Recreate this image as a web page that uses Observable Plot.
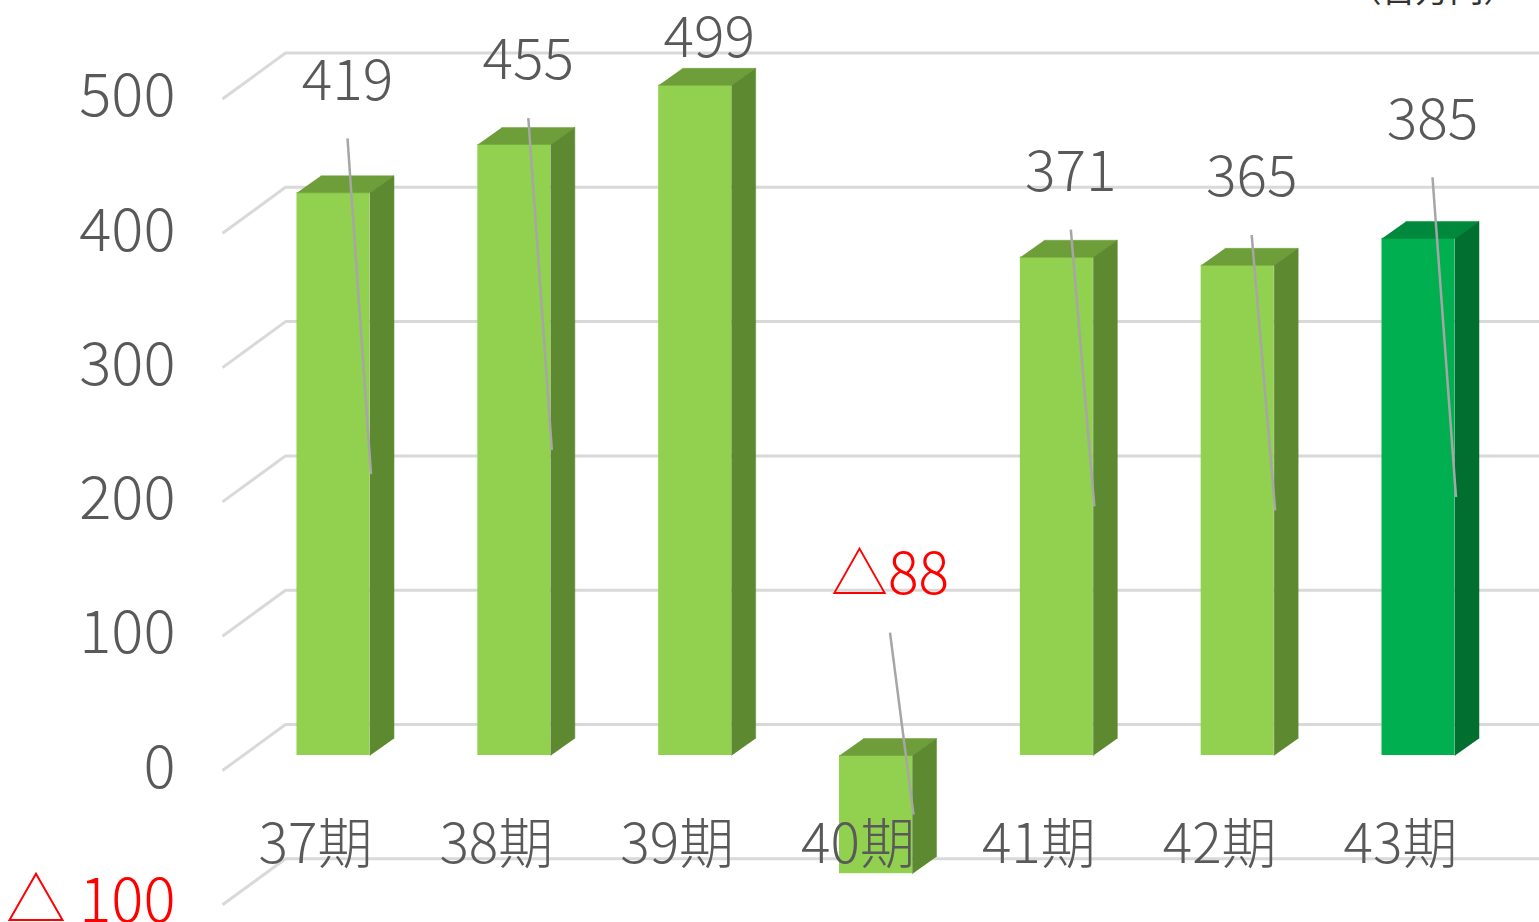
<!DOCTYPE html>
<html><head><meta charset="utf-8">
<script src="https://cdn.jsdelivr.net/npm/d3@7"></script>
<script src="https://cdn.jsdelivr.net/npm/@observablehq/plot@0.6"></script>
<style>
html,body{margin:0;padding:0;background:#fff;overflow:hidden}
#chart svg{display:block}
</style></head><body><div id="chart"></div>
<script>
// ---- data ----
const periods = ["37期", "38期", "39期", "40期", "41期", "42期", "43期"];
const profits = [419, 455, 499, -88, 371, 365, 385];
const valueLabels = ["419", "455", "499", "△88", "371", "365", "385"];
// level (in 百万円) at which each callout label was placed in the original
const calloutLevels = [502, 517, 534, 134, 434, 430, 473];
const gridValues = [-100, 0, 100, 200, 300, 400, 500];
const tickLabels = ["△ 100", "0", "100", "200", "300", "400", "500"];
const unitLabel = "（百万円）";

// ---- layout ----
const W = 1539, H = 922;
const X_RANGE = [333, 1418];
const Y_DOMAIN = [0, 500], Y_RANGE = [755, 83.5];
const pxX = (X_RANGE[1] - X_RANGE[0]) / (periods.length - 1);
const pxY = (Y_RANGE[0] - Y_RANGE[1]) / (Y_DOMAIN[1] - Y_DOMAIN[0]);
const MARGIN_LEFT = 285;
const HALF = 36.5 / pxX;          // half bar width (index units)
const DEPTH_X = 24 / pxX;         // bar depth (index units)
const DEPTH_Y = 17 / pxY;         // bar depth (value units)
const WALL_BACK_X = (MARGIN_LEFT - X_RANGE[0]) / pxX;
const WALL_FRONT_X = (MARGIN_LEFT - 63 - X_RANGE[0]) / pxX;
const WALL_BACK_DY = -31, WALL_FRONT_DY = 15;
const FONT = "'Noto Sans CJK JP', 'Noto Sans', sans-serif";
const TXT = "#595959";

const bars = periods.map((p, i) => ({
  i, period: p, value: profits[i], label: valueLabels[i], at: calloutLevels[i],
  front: i === periods.length - 1 ? "#00B050" : "#92D050",
  top: i === periods.length - 1 ? "#00893D" : "#6E9E3A",
  side: i === periods.length - 1 ? "#006F30" : "#5D8A30"
}));

function topFace(b) {
  const t = Math.max(b.value, 0);
  return [
    {x: b.i - HALF, y: t}, {x: b.i + HALF, y: t},
    {x: b.i + HALF + DEPTH_X, y: t + DEPTH_Y}, {x: b.i - HALF + DEPTH_X, y: t + DEPTH_Y}
  ];
}
function sideFace(b) {
  const t = Math.max(b.value, 0), lo = Math.min(b.value, 0);
  return [
    {x: b.i + HALF, y: lo}, {x: b.i + HALF, y: t},
    {x: b.i + HALF + DEPTH_X, y: t + DEPTH_Y}, {x: b.i + HALF + DEPTH_X, y: lo + DEPTH_Y}
  ];
}

const leaders = bars.filter(b => (b.at - Math.max(b.value, 0)) * pxY > 60);

const marks = [
  // back wall gridlines
  Plot.ruleY(gridValues, {y: d => d, dy: WALL_BACK_DY, stroke: "#D9D9D9", strokeWidth: 3}),
  // side wall (left) slanted gridlines
  Plot.link(gridValues, {
    x1: () => WALL_FRONT_X, x2: () => WALL_BACK_X,
    y1: d => d - WALL_FRONT_DY / pxY, y2: d => d - WALL_BACK_DY / pxY,
    stroke: "#D9D9D9", strokeWidth: 3
  }),
  // bars: front faces
  Plot.rect(bars, {x1: d => d.i - HALF, x2: d => d.i + HALF, y1: 0, y2: "value", fill: "front"}),
  // bars: top and side faces
  ...bars.map(b => Plot.line(topFace(b), {x: "x", y: "y", fill: b.top, stroke: b.top, strokeWidth: 0.5, curve: "linear"})),
  ...bars.map(b => Plot.line(sideFace(b), {x: "x", y: "y", fill: b.side, stroke: b.side, strokeWidth: 0.5, curve: "linear"})),
  // leader lines
  Plot.link(leaders, {
    x1: d => d.i + 14 / pxX, y1: d => d.at - 57 / pxY,
    x2: d => d.i + HALF + 1 / pxX, y2: d => d.value / 2,
    stroke: "#A6A6A6", strokeWidth: 2.5
  }),
  // value labels
  Plot.text(bars, {
    x: "i", y: "at", dx: 14, text: "label",
    fill: d => d.value < 0 ? "#FF0000" : TXT,
    fontSize: 57, fontFamily: FONT, fontWeight: 300
  }),
  // category labels
  Plot.text(bars, {
    x: "i", y: 0, dx: -18, dy: 90, text: "period",
    fill: TXT, fontSize: 55, fontFamily: FONT, fontWeight: 300
  }),
  // y tick labels
  Plot.text(gridValues, {
    y: d => d, frameAnchor: "left", dx: -110, dy: 13, textAnchor: "end",
    text: (d, i) => tickLabels[i],
    fill: d => d < 0 ? "#FF0000" : TXT,
    fontSize: 60, fontFamily: FONT, fontWeight: 300
  }),
  // unit (cut off at top in the original)
  Plot.text([unitLabel], {
    frameAnchor: "top-right", dx: -22, dy: 1, lineAnchor: "bottom", textAnchor: "end",
    text: d => d, fill: "#333333", fontSize: 34, fontFamily: FONT
  })
];

const chart = Plot.plot({
  width: W, height: H,
  marginLeft: MARGIN_LEFT, marginRight: 0, marginTop: 0, marginBottom: 0,
  x: {type: "linear", domain: [0, periods.length - 1], range: X_RANGE, axis: null},
  y: {type: "linear", domain: Y_DOMAIN, range: Y_RANGE, axis: null},
  color: {type: "identity"},
  style: {fontFamily: FONT, background: "#fff", overflow: "visible"},
  marks
});
document.getElementById("chart").appendChild(chart);
</script>
</body></html>
